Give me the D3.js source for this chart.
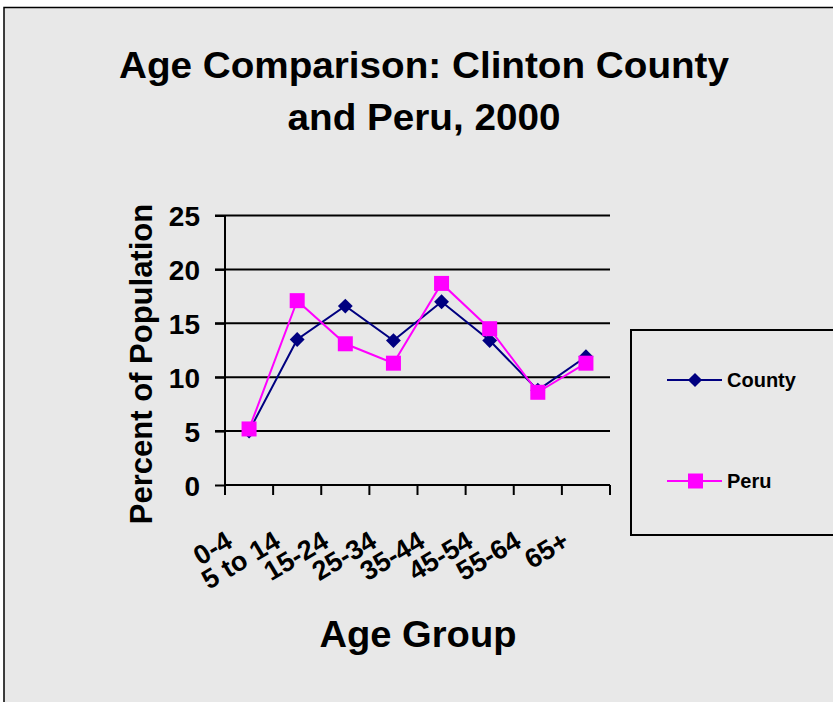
<!DOCTYPE html>
<html><head><meta charset="utf-8">
<script src="https://cdn.jsdelivr.net/npm/d3@7"></script>
<style>body{margin:0;background:#fff}svg{display:block}text{font-family:"Liberation Sans",Arial,sans-serif;font-weight:bold;fill:#000}</style>
</head><body>
<script>
const categories = ["0-4","5 to 14","15-24","25-34","35-44","45-54","55-64","65+"];
const county = [5.0,13.5,16.6,13.4,17.0,13.4,8.8,11.9];
const peru = [5.2,17.1,13.1,11.3,18.7,14.5,8.6,11.3];
const yTicks = [0,5,10,15,20,25];

const W=833,H=702;
const svg=d3.select("body").append("svg").attr("width",W).attr("height",H);
svg.append("rect").attr("x",0).attr("y",0).attr("width",W).attr("height",H).attr("fill","#fff");
svg.append("rect").attr("x",4).attr("y",7.5).attr("width",W+10).attr("height",H+10).attr("fill","#e8e8e8").attr("stroke","#000").attr("stroke-width",1.5);

svg.append("text").attr("x",424).attr("y",78).attr("text-anchor","middle").attr("font-size",36)
  .attr("textLength",610).attr("lengthAdjust","spacingAndGlyphs").text("Age Comparison: Clinton County");
svg.append("text").attr("x",424).attr("y",130).attr("text-anchor","middle").attr("font-size",36)
  .attr("textLength",273).attr("lengthAdjust","spacingAndGlyphs").text("and Peru, 2000");

const x=d3.scaleBand().domain(categories).range([225,610]);
const y=d3.scaleLinear().domain([0,25]).range([485,215.5]);

const g=svg.append("g");
g.selectAll("line.grid").data(yTicks.slice(1)).join("line")
  .attr("x1",215).attr("x2",610).attr("y1",d=>y(d)).attr("y2",d=>y(d)).attr("stroke","#000").attr("stroke-width",2);
const ya=g.append("g").attr("transform","translate(225,0)").call(d3.axisLeft(y).tickValues(yTicks).tickSize(10).tickPadding(15).tickFormat(d3.format("d")));
ya.select(".domain").attr("stroke","#000").attr("stroke-width",2).attr("d","M0,"+y(25)+"V"+y(0));
ya.selectAll(".tick line").attr("stroke","#000").attr("stroke-width",2);
ya.selectAll(".tick text").attr("font-size",28).attr("font-family","Liberation Sans, Arial, sans-serif").attr("font-weight","bold").attr("fill","#000").attr("dy","0.36em");
const xa=g.append("g").attr("transform","translate(0,485)").call(d3.axisBottom(x).tickSize(0).tickFormat(""));
xa.select(".domain").attr("stroke","#000").attr("stroke-width",2).attr("d","M225,0H610");
const bounds=[225].concat(categories.map(c=>x(c)+x.bandwidth()));
g.selectAll("line.xt").data(bounds).join("line").attr("x1",d=>d).attr("x2",d=>d).attr("y1",485).attr("y2",495).attr("stroke","#000").attr("stroke-width",2);
g.selectAll("text.xl").data(categories).join("text")
  .attr("text-anchor","end").attr("font-size",27)
  .attr("transform",d=>`translate(${x(d)+x.bandwidth()/2-15},${546}) rotate(-31)`)
  .text(d=>d);

svg.append("text").attr("text-anchor","middle").attr("font-size",31)
  .attr("transform","translate(152,364) rotate(-90)").text("Percent of Population");
svg.append("text").attr("x",418).attr("y",647).attr("text-anchor","middle").attr("font-size",37)
  .attr("textLength",197).attr("lengthAdjust","spacingAndGlyphs").text("Age Group");

const line=d3.line().x((d,i)=>x(categories[i])+x.bandwidth()/2).y(d=>y(d));
const navy="#000080", mag="#ff00ff";
svg.append("path").datum(county).attr("d",line).attr("fill","none").attr("stroke",navy).attr("stroke-width",2);
svg.append("path").datum(peru).attr("d",line).attr("fill","none").attr("stroke",mag).attr("stroke-width",2);
svg.selectAll("path.cm").data(county).join("path").attr("d",d3.symbol().type(d3.symbolSquare).size(110))
  .attr("transform",(d,i)=>`translate(${x(categories[i])+x.bandwidth()/2},${y(d)}) rotate(45)`).attr("fill",navy);
svg.selectAll("rect.pm").data(peru).join("rect")
  .attr("x",(d,i)=>x(categories[i])+x.bandwidth()/2-7.5).attr("y",d=>y(d)-7.5).attr("width",15).attr("height",15).attr("fill",mag);

svg.append("rect").attr("x",631).attr("y",330).attr("width",210).attr("height",205).attr("fill","none").attr("stroke","#000").attr("stroke-width",2);
const leg=[{n:"County",c:navy,y:380},{n:"Peru",c:mag,y:481}];
leg.forEach(l=>{
  svg.append("line").attr("x1",667).attr("x2",722).attr("y1",l.y).attr("y2",l.y).attr("stroke",l.c).attr("stroke-width",2);
  if(l.n==="County") svg.append("path").attr("d",d3.symbol().type(d3.symbolSquare).size(100)).attr("transform",`translate(695,${l.y}) rotate(45)`).attr("fill",l.c);
  else svg.append("rect").attr("x",688).attr("y",l.y-7.5).attr("width",15).attr("height",15).attr("fill",l.c);
  svg.append("text").attr("x",727).attr("y",l.y+7).attr("font-size",20).text(l.n);
});
</script>
</body></html>
